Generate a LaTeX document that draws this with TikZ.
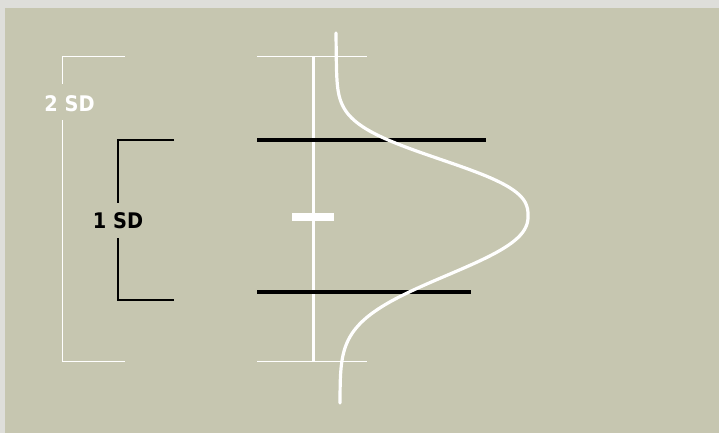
\documentclass[tikz,border=0pt]{standalone}
\usepackage{fontspec}
\setmainfont{DejaVu Sans Condensed}
\begin{document}
\begin{tikzpicture}[x=1pt,y=-1pt,
  thinwhite/.style={draw=white,line width=1pt},
  thinblack/.style={draw=black,line width=1.3pt},
  sdlabel/.style={font=\bfseries\fontsize{21.5}{23}\selectfont,inner sep=0pt,anchor=center},
  barline/.style={draw=black,line width=3.8pt},
  axisline/.style={draw=white,line width=3pt},
  curveline/.style={draw=white,line width=3.2pt,line cap=round,line join=round}]
\definecolor{bg}{HTML}{C6C6B0}
\definecolor{margin}{HTML}{DEDEDA}
\useasboundingbox (0,0) rectangle (719,433);
\fill[margin] (0,0) rectangle (719,433);
\fill[bg] (5,8) rectangle (719,433);
% 2 SD bracket
\node[sdlabel,text=white] (sd2) at (69.5,104) {2 SD};
\coordinate (a1) at (125,57);
\coordinate (a2) at (62,57);
\coordinate (a3) at (62,84);
\coordinate (a4) at (62,120);
\coordinate (a5) at (62,361);
\coordinate (a6) at (125,361);
\draw[thinwhite] (a1) -- (a2) -- (a3);
\draw[thinwhite] (a4) -- (a5) -- (a6);
% 1 SD bracket
\node[sdlabel,text=black] (sd1) at (118,220.5) {1 SD};
\coordinate (b1) at (174,140);
\coordinate (b2) at (118,140);
\coordinate (b3) at (118,203);
\coordinate (b4) at (118,238);
\coordinate (b5) at (118,300);
\coordinate (b6) at (174,300);
\draw[thinblack] (b1) -- (b2) -- (b3);
\draw[thinblack] (b4) -- (b5) -- (b6);
% ticks
\coordinate (t1) at (257,57); \coordinate (t2) at (367,57);
\coordinate (t3) at (257,361); \coordinate (t4) at (367,361);
\draw[thinwhite] (t1) -- (t2);
\draw[thinwhite] (t3) -- (t4);
% axis
\coordinate (ax1) at (313,57); \coordinate (ax2) at (313,361);
\draw[axisline] (ax1) -- (ax2);
% mean mark
\fill[white] (292,213) rectangle (334,220.5);
% SD bars
\coordinate (h1) at (257,140); \coordinate (h2) at (486,140);
\coordinate (h3) at (257,292); \coordinate (h4) at (471,292);
\draw[barline] (h1) -- (h2);
\draw[barline] (h3) -- (h4);
% curve (skewed bell, drawn sideways)
\draw[curveline]
  plot[domain=33:216,samples=120,variable=\t]
    ({336+(\t-33)*0.0108+(528-336-(\t-33)*0.0108)*exp(-pow((abs(\t-216)+0.01)/68.3,2.6))},\t)
  -- plot[domain=216:403,samples=120,variable=\t]
    ({336+(\t-33)*0.0108+(528-336-(\t-33)*0.0108)*exp(-pow((abs(\t-216)+0.01)/76.4,2.3))},\t);
\end{tikzpicture}
\end{document}
